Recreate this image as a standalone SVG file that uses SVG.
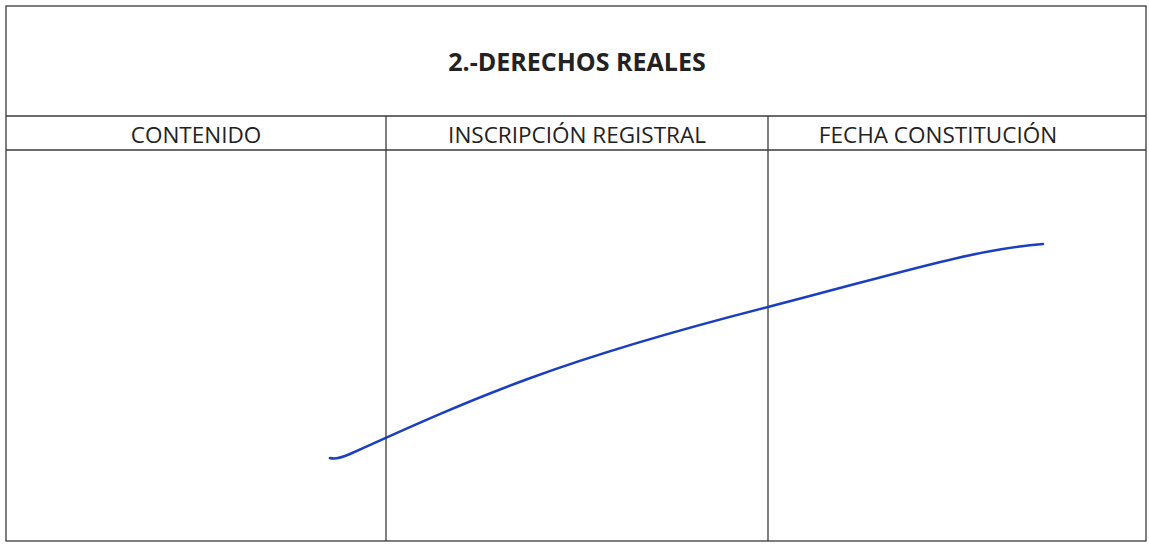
<svg xmlns="http://www.w3.org/2000/svg" width="1149" height="544" viewBox="0 0 1149 544">
<style>
.ln{stroke:#3a3a3a;stroke-width:1.3;fill:none}
.t{font-family:"Open Sans","Liberation Sans",sans-serif;font-size:22.5px;fill:#222;text-anchor:middle}
.b{font-weight:bold;font-size:25px}
</style>
<rect width="1149" height="544" fill="#fff"/>
<g id="table">
<rect class="ln" x="6" y="6" width="1140" height="535"/>
<line class="ln" x1="6" y1="116" x2="1146" y2="116"/>
<line class="ln" x1="6" y1="150" x2="1146" y2="150"/>
<line class="ln" x1="386" y1="116" x2="386" y2="541"/>
<line class="ln" x1="768" y1="116" x2="768" y2="541"/>
</g>
<g id="title"><text class="t b" x="577" y="71">2.-DERECHOS REALES</text></g>
<g id="h1"><text class="t" x="196" y="143">CONTENIDO</text></g>
<g id="h2"><text class="t" x="577" y="143">INSCRIPCIÓN REGISTRAL</text></g>
<g id="h3"><text class="t" x="938" y="143">FECHA CONSTITUCIÓN</text></g>
<g id="connectors">
<path d="M330,458 Q336,460 350,454 C480,395 560,360 768,307 C900,273 970,250 1043,244" fill="none" stroke="#1c3fc0" stroke-width="2.6" stroke-linecap="round"/>
</g>
</svg>
